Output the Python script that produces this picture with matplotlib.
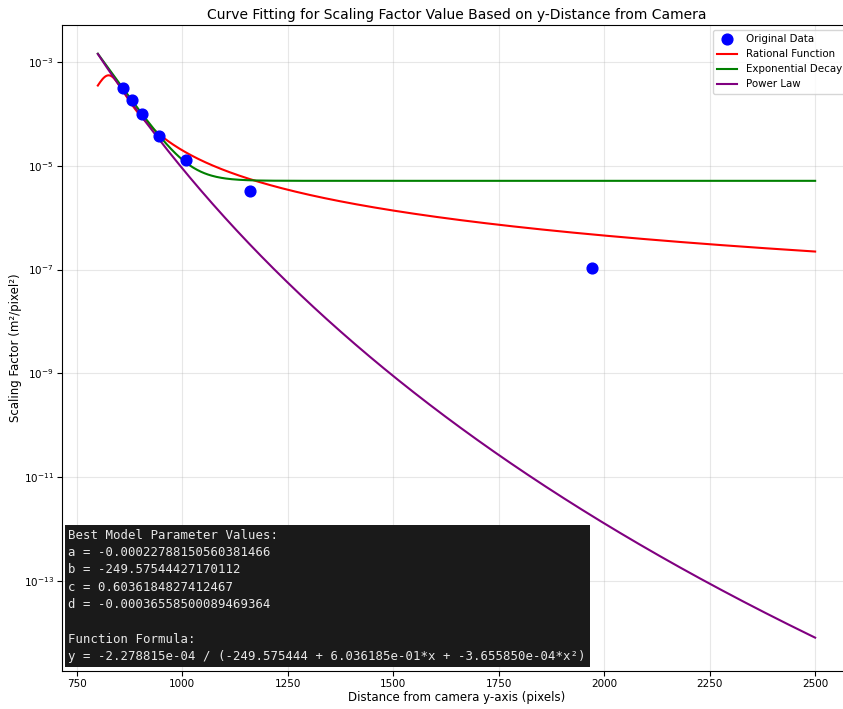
import numpy as np
import matplotlib.pyplot as plt

# measured points (distance in px, scaling factor in m^2/px^2)
dist_px = [860, 880, 905, 945, 1010, 1160, 1970]
scale_factor = [3.1e-4, 1.8e-4, 1.0e-4, 3.8e-5, 1.3e-5, 3.2e-6, 1.07e-7]

# rational fit parameters (best model)
a = -0.00022788150560381466
b = -249.57544427170112
c = 0.6036184827412467
d = -0.00036558500089469364

# exponential decay fit: A*exp(-k*(x-x0)) + C
exp_A, exp_k, exp_x0, exp_C = 1.42e-3, 0.0259, 800, 5.1e-6
# power law fit: A*(x/x0)^-n
pow_A, pow_x0, pow_n = 1.41e-3, 800, 22.7

x_fit = np.linspace(800, 2500, 600)
y_rat = a / (b + c * x_fit + d * x_fit ** 2)
y_exp = exp_A * np.exp(-exp_k * (x_fit - exp_x0)) + exp_C
y_pow = pow_A * (x_fit / pow_x0) ** (-pow_n)

fig = plt.figure(figsize=(8.43, 7.09), dpi=100)
ax = fig.add_axes([0.0735, 0.054, 0.936, 0.911])

ax.scatter(dist_px, scale_factor, color='blue', s=60, zorder=5, label='Original Data')
ax.plot(x_fit, y_rat, color='red', lw=1.5, label='Rational Function')
ax.plot(x_fit, y_exp, color='green', lw=1.5, label='Exponential Decay')
ax.plot(x_fit, y_pow, color='purple', lw=1.5, label='Power Law')

ax.set_yscale('log')
ax.set_xlim(715, 2585)
ax.set_ylim(10 ** -14.72, 10 ** -2.29)
ax.grid(True, alpha=0.3)
ax.tick_params(labelsize=7.5, pad=2.5)

ax.set_title('Curve Fitting for Scaling Factor Value Based on y-Distance from Camera',
             fontsize=10, pad=4)
ax.set_xlabel('Distance from camera y-axis (pixels)', fontsize=8.5, labelpad=1.5)
ax.set_ylabel('Scaling Factor (m²/pixel²)', fontsize=8.5, labelpad=1)
ax.legend(loc='upper right', fontsize=7.4)

info = ("Best Model Parameter Values:\n"
        f"a = {a}\n"
        f"b = {b}\n"
        f"c = {c}\n"
        f"d = {d}\n"
        "\n"
        "Function Formula:\n"
        f"y = {a:e} / ({b:f} + {c:e}*x + {d:e}*x²)")
ax.text(0.008, 0.012, info, transform=ax.transAxes, fontsize=8.95,
        family='DejaVu Sans Mono', color='#e8e8e8', va='bottom', ha='left',
        linespacing=1.43,
        bbox=dict(facecolor='#1a1a1a', edgecolor='none', boxstyle='square,pad=0.3'))

fig.savefig('out.png', dpi=100)
